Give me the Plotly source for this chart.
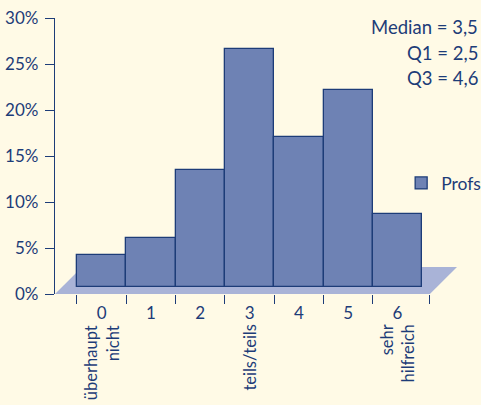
import plotly.graph_objects as go

categories = ["0", "1", "2", "3", "4", "5", "6"]
values = [4.2, 6.1, 13.5, 26.6, 17.1, 22.2, 8.7]
end_labels = {0: "überhaupt<br>nicht", 3: "teils/teils", 6: "sehr<br>hilfreich"}
y_ticks = [0, 5, 10, 15, 20, 25, 30]
y_tick_text = [f"{v}%" for v in y_ticks]
stats_text = ["Median = 3,5", "Q1 = 2,5", "Q3 = 4,6"]
series_name = "Profs"

NAVY = "#1d3c78"
BAR = "#6e82b4"
FLOOR = "#a9b3d7"
BG = "#fffae6"
FONT = "Lato"

depth = 0.8          # 3D base offset (in % units)
floor_dx = 0.55      # floor depth in x units
floor_dy = 2.93      # floor depth in y units
x_left = -0.446
x_last = 7.156

xs = [i + 0.5 for i in range(len(categories))]

fig = go.Figure()
fig.add_trace(go.Bar(
    x=xs, y=[v - depth for v in values], base=depth, width=1,
    marker=dict(color=BAR, line=dict(color=NAVY, width=1.3)),
    name=series_name, showlegend=True,
))

# floor
fig.add_shape(type="path", xref="x", yref="y", layer="below",
              path=f"M {x_left},0 L {x_last},0 L {x_last+floor_dx},{floor_dy} L {x_left+floor_dx},{floor_dy} Z",
              fillcolor=FLOOR, line=dict(width=0))

annotations = []
for i, txt in end_labels.items():
    annotations.append(dict(x=xs[i], y=-0.105, xref="x", yref="paper", text=txt,
                            textangle=-90, showarrow=False, xanchor="center", yanchor="top",
                            align="right", font=dict(family=FONT, size=16.5, color=NAVY)))
for j, t in enumerate(stats_text):
    annotations.append(dict(x=1.057, y=0.967 - j * 0.092, xref="paper", yref="paper", text=t,
                            showarrow=False, xanchor="right", yanchor="middle", align="right",
                            font=dict(family=FONT, size=18.5, color=NAVY)))

fig.update_layout(
    width=481, height=405,
    margin=dict(l=55, r=24, t=18, b=111, autoexpand=False),
    paper_bgcolor=BG, plot_bgcolor=BG,
    font=dict(family=FONT, size=17, color=NAVY),
    bargap=0,
    showlegend=True,
    legend=dict(xref="container", yref="container", x=0.834, y=0.548,
                xanchor="left", yanchor="middle", bgcolor="rgba(0,0,0,0)",
                font=dict(family=FONT, size=17.5, color=NAVY), itemwidth=30),
    annotations=annotations,
    xaxis=dict(range=[x_left, x_last + floor_dx], tickvals=xs, ticktext=categories,
               ticks="outside", ticklen=0, showgrid=False, zeroline=False, showline=False,
               automargin=False,
               ticklabelstandoff=4, tickfont=dict(family=FONT, size=17, color=NAVY),
               minor=dict(tickvals=list(range(len(categories))) + [x_last], ticks="outside",
                          ticklen=9, tickcolor=NAVY, tickwidth=1.3, showgrid=False)),
    yaxis=dict(range=[0, 30], tickvals=y_ticks, ticktext=y_tick_text, ticks="outside",
               ticklen=9, tickcolor=NAVY, tickwidth=1.3, showline=True, linecolor=NAVY,
               linewidth=1.3, showgrid=False, zeroline=False, ticklabelstandoff=3,
               automargin=False,
               tickfont=dict(family=FONT, size=17, color=NAVY)),
)

fig.write_html("out.html", config={"displayModeBar": False},
               post_script=f"document.body.style.margin='0';document.body.style.background='{BG}';document.body.style.overflow='hidden';")
